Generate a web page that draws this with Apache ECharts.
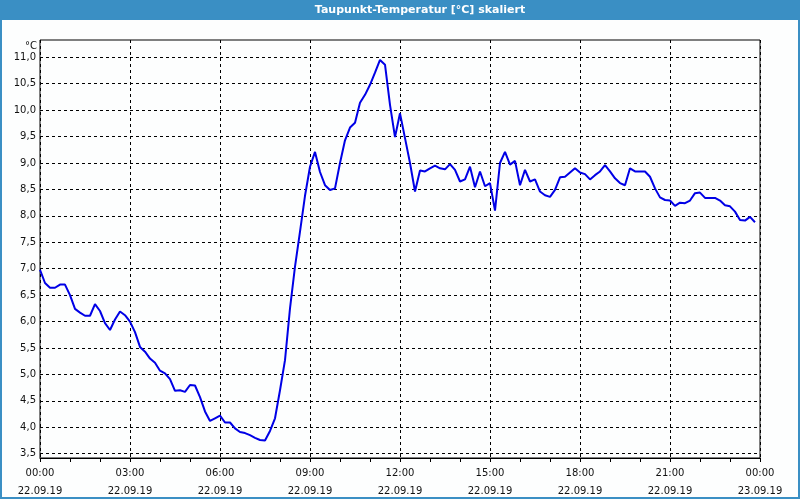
<!DOCTYPE html>
<html>
<head>
<meta charset="utf-8">
<script src="https://cdn.jsdelivr.net/npm/echarts@6/dist/echarts.min.js"></script>
<style>
html,body{margin:0;padding:0;background:#fff;}
#chart{width:800px;height:500px;}
</style>
</head>
<body>
<div id="chart"></div>
<script>
// ---- data ----
const titleText = 'Taupunkt-Temperatur [°C] skaliert';
const unitLabel = '°C';
const stepMinutes = 10; // one reading every 10 minutes, from 00:00
const tickLabels = ['00:00\n22.09.19','03:00\n22.09.19','06:00\n22.09.19','09:00\n22.09.19','12:00\n22.09.19','15:00\n22.09.19','18:00\n22.09.19','21:00\n22.09.19','00:00\n23.09.19'];
const dewPoint = [
  6.98,6.73,6.64,6.64,6.70,6.70,6.50,6.24,6.17,6.11,
  6.11,6.33,6.20,5.97,5.84,6.04,6.19,6.12,6.00,5.80,
  5.52,5.43,5.30,5.22,5.07,5.02,4.91,4.69,4.70,4.67,
  4.80,4.79,4.57,4.30,4.12,4.17,4.22,4.09,4.09,3.98,
  3.91,3.89,3.85,3.80,3.76,3.75,3.93,4.17,4.70,5.27,
  6.25,7.04,7.70,8.38,8.93,9.21,8.83,8.58,8.49,8.52,
  9.00,9.43,9.67,9.76,10.14,10.29,10.48,10.71,10.95,10.86,
  10.10,9.49,9.94,9.47,9.00,8.46,8.86,8.84,8.90,8.95,
  8.90,8.88,8.98,8.87,8.65,8.69,8.93,8.54,8.84,8.56,
  8.62,8.10,9.00,9.21,8.97,9.04,8.58,8.87,8.65,8.69,
  8.46,8.39,8.36,8.49,8.73,8.74,8.82,8.90,8.82,8.79,
  8.69,8.77,8.84,8.96,8.84,8.71,8.62,8.58,8.90,8.84,
  8.84,8.84,8.74,8.52,8.35,8.30,8.29,8.19,8.25,8.24,
  8.29,8.43,8.44,8.34,8.34,8.34,8.29,8.20,8.18,8.08,
  7.92,7.91,7.98,7.88
];
// ---- chart ----
const seriesData = dewPoint.map((v, i) => [i * stepMinutes / 60, v]);
const font = 'DejaVu Sans';
const blue = '#3a8fc4';
const chart = echarts.init(document.getElementById('chart'), null, {renderer: 'canvas'});
chart.setOption({
  animation: false,
  backgroundColor: '#fdfefe',
  textStyle: {fontFamily: font},
  grid: [
    {left: 40, right: 40, top: 40, bottom: 39, show: true, borderColor: '#000', borderWidth: 1, backgroundColor: 'transparent'},
    {left: 40, right: 40, top: 57.3, bottom: 46.3}
  ],
  xAxis: [
    {
      gridIndex: 0, type: 'value', min: 0, max: 24, interval: 3,
      axisLine: {show: true, lineStyle: {color: '#000', width: 1}},
      axisTick: {show: true, length: 4, lineStyle: {color: '#000'}},
      minorTick: {show: true, splitNumber: 3, length: 4, lineStyle: {color: '#000'}},
      splitLine: {show: true, lineStyle: {color: '#000', type: [3, 3], width: 1}},
      axisLabel: {
        formatter: v => tickLabels[Math.round(v / 3)],
        fontFamily: font, fontSize: 10, color: '#111', lineHeight: 18, margin: 6,
        showMinLabel: true, showMaxLabel: true
      }
    },
    {gridIndex: 1, type: 'value', min: 0, max: 24, show: false}
  ],
  yAxis: [
    {gridIndex: 0, type: 'value', min: 0, max: 1, show: false, splitLine: {show: false}},
    {
      gridIndex: 1, type: 'value', min: 3.5, max: 11, interval: 0.5,
      axisLine: {show: false}, axisTick: {show: false},
      splitLine: {show: true, lineStyle: {color: '#000', type: [3, 3], width: 1}},
      axisLabel: {
        formatter: v => v.toFixed(1).replace('.', ','),
        fontFamily: font, fontSize: 10, color: '#111', margin: 4
      }
    }
  ],
  series: [{
    type: 'line', xAxisIndex: 1, yAxisIndex: 1,
    data: seriesData, showSymbol: false, symbol: 'none',
    lineStyle: {color: '#0000e6', width: 2},
    z: 5
  }],
  graphic: [
    {type: 'rect', left: 0, top: 0, shape: {width: 800, height: 20}, style: {fill: blue}, silent: true},
    {type: 'rect', shape: {x: 1, y: 0, width: 798, height: 498}, style: {fill: null, stroke: blue, lineWidth: 2}, silent: true},
    {type: 'text', x: 420, y: 10, style: {text: titleText, fill: '#fff', font: 'bold 11px "DejaVu Sans"', textAlign: 'center', textVerticalAlign: 'middle'}},
    {type: 'text', x: 37, y: 46, style: {text: unitLabel, fill: '#111', font: '10px "DejaVu Sans"', textAlign: 'right', textVerticalAlign: 'middle'}}
  ]
});
</script>
</body>
</html>
